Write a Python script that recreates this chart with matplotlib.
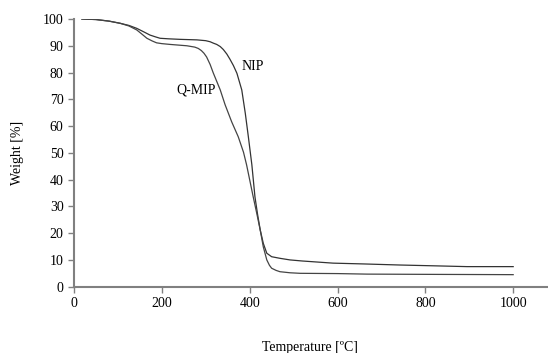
import matplotlib
matplotlib.use("Agg")
import matplotlib.pyplot as plt

plt.rcParams['font.family'] = ['Liberation Serif', 'DejaVu Serif']

# NIP curve (temperature degC, weight %)
nip_t = [18, 50, 80, 105, 125, 143, 160, 173, 186, 196, 215, 241, 280, 300, 310, 317,
         325, 333, 340, 348, 355, 363, 371, 382, 390, 397, 405, 412, 418, 424, 431,
         439, 450, 469, 492, 520, 590, 660, 742, 820, 895, 1000]
nip_w = [100, 99.8, 99.2, 98.4, 97.6, 96.5, 95.1, 94.0, 93.3, 92.8, 92.6, 92.4, 92.2,
         91.9, 91.5, 91.0, 90.5, 89.7, 88.6, 86.9, 85.0, 82.6, 79.7, 73.5, 64.8, 56.0,
         45.5, 33.6, 27.0, 21.2, 16.2, 12.5, 11.2, 10.6, 10.0, 9.6, 8.8, 8.5, 8.1, 7.8,
         7.5, 7.5]

# Q-MIP curve
qmip_t = [18, 50, 80, 105, 125, 143, 155, 166, 178, 188, 200, 219, 257, 275, 283, 290,
          296, 302, 310, 317, 333, 344, 359, 374, 386, 393, 408, 416, 424, 431, 439,
          445, 450, 460, 469, 492, 515, 600, 667, 820, 1000]
qmip_w = [100, 99.8, 99.2, 98.4, 97.4, 95.9, 94.3, 92.8, 91.8, 91.1, 90.8, 90.5, 90.0,
          89.5, 89.0, 88.2, 87.2, 85.8, 83.0, 79.9, 73.5, 68.0, 61.6, 56.0, 50.2, 45.5,
          33.6, 27.5, 21.2, 14.9, 10.0, 8.0, 6.9, 6.1, 5.6, 5.2, 5.0, 4.9, 4.7, 4.6, 4.5]

x_ticks = [0, 200, 400, 600, 800, 1000]
y_ticks = [0, 10, 20, 30, 40, 50, 60, 70, 80, 90, 100]

fig = plt.figure(figsize=(5.48, 3.53), dpi=100)
ax = fig.add_axes([74/548, 1-286.7/353, (547-74)/548, (286.7-19)/353])

ax.plot(nip_t, nip_w, color='#333333', lw=0.9)
ax.plot(qmip_t, qmip_w, color='#444444', lw=0.9)

ax.text(408, 82.4, 'NIP', fontsize=10, ha='center', va='center')
ax.text(278, 73.3, 'Q-MIP', fontsize=10, ha='center', va='center')

ax.set_xlim(0, 1077)
ax.set_ylim(0, 100)
ax.set_xticks(x_ticks)
ax.set_yticks(y_ticks)

for s in ['top', 'right']:
    ax.spines[s].set_visible(False)
for s in ['left', 'bottom']:
    ax.spines[s].set_color('#808080')
    ax.spines[s].set_linewidth(1.5)
ax.tick_params(axis='both', colors='#808080', length=4, width=1, labelsize=10,
               labelcolor='black')

ax.set_xlabel('Temperature [ºC]', fontsize=10)
ax.xaxis.set_label_coords((310-74)/(547-74), -(347-286.7)/(286.7-19), transform=ax.transAxes)
ax.xaxis.label.set_va('center')
ax.set_ylabel('Weight [%]', fontsize=10)
ax.yaxis.set_label_coords(-(74-18)/(547-74), 0.5)
ax.yaxis.label.set_va('center')

fig.savefig('out.png', dpi=100)
